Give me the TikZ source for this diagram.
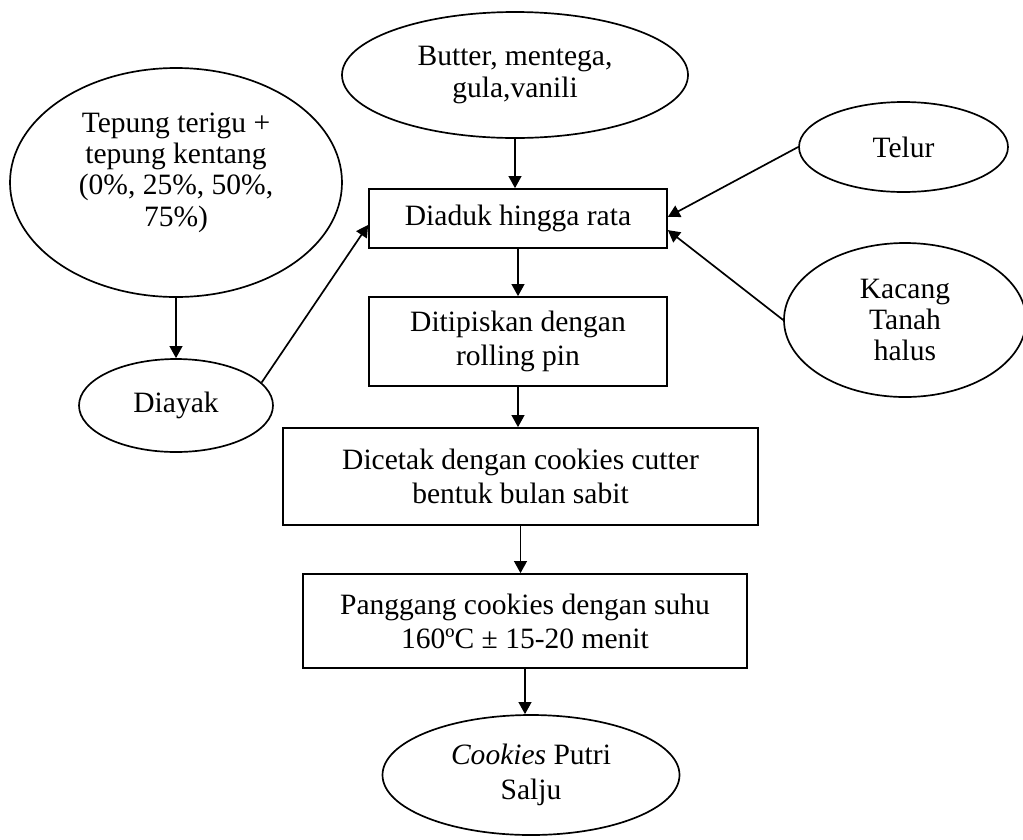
\documentclass[tikz,border=0pt]{standalone}
\usepackage{fontspec}
\setmainfont{Liberation Serif}
\usepackage{tikz}
\usetikzlibrary{arrows.meta,positioning,shapes.geometric}

\begin{document}
\begin{tikzpicture}[>={Triangle[length=8.5pt,width=9pt]}, line width=1.2pt,
  font=\fontsize{21}{22.3}\selectfont,
  bahan/.style={draw, ellipse, inner sep=0pt, align=center, minimum width=#1},
  proses/.style={draw, rectangle, inner sep=0pt, align=center, minimum width=#1, font=\fontsize{21}{24.2}\selectfont},
  arus/.style={->, line width=1.2pt}]
  \useasboundingbox (0,0) rectangle (25.575,-20.975);
  % ingredients
  \node[bahan=8.65cm, minimum height=3.15cm] (butter) at (12.875,-1.875) {Butter, mentega,\\gula,vanili};
  \node[bahan=8.3cm, minimum height=5.725cm, text depth=0.66cm] (tepung) at (4.4,-4.5625) {Tepung terigu +\\tepung kentang\\(0\%, 25\%, 50\%,\\75\%)};
  \node[bahan=5.225cm, minimum height=2.25cm] (telur) at (22.5875,-3.675) {Telur};
  \node[bahan=6.05cm, minimum height=3.85cm] (kacang) at (22.625,-8.0) {Kacang\\Tanah\\halus};
  \node[bahan=4.85cm, minimum height=2.325cm] (diayak) at (4.4,-10.1375) {Diayak};
  % process steps
  \node[proses=7.45cm, minimum height=1.475cm] (diaduk) at (12.95,-5.4625) {Diaduk hingga rata};
  \node[proses=7.45cm, minimum height=2.225cm] (tipis) at (12.95,-8.5375) {Ditipiskan dengan\\rolling pin};
  \node[proses=11.875cm, minimum height=2.425cm] (cetak) at (13.0125,-11.9125) {Dicetak dengan cookies cutter\\bentuk bulan sabit};
  \node[proses=11.1cm, minimum height=2.35cm] (panggang) at (13.125,-15.525) {Panggang cookies dengan suhu\\160ºC ± 15-20 menit};
  \node[bahan=7.425cm, minimum height=3.0cm, font=\fontsize{21}{24.8}\selectfont] (hasil) at (13.275,-19.375) {\textit{Cookies} Putri\\Salju};
  % connectors
  \draw[arus] (butter.south) -- (butter.south |- diaduk.north);
  \draw[arus] (telur.west) -- ([yshift=0.04cm]diaduk.east);
  \draw[arus] (kacang.west) -- ([yshift=-0.29cm]diaduk.east);
  \draw[arus] (tepung.south) -- (diayak.north);
  \draw[arus] (diayak.15) -- ([yshift=-0.16cm]diaduk.west);
  \draw[arus] (diaduk.south) -- (diaduk.south |- tipis.north);
  \draw[arus] (tipis.south) -- (tipis.south |- cetak.north);
  \draw[arus] (cetak.south) -- (cetak.south |- panggang.north);
  \draw[arus] (panggang.south) -- (panggang.south |- hasil.north);
\end{tikzpicture}
\end{document}
